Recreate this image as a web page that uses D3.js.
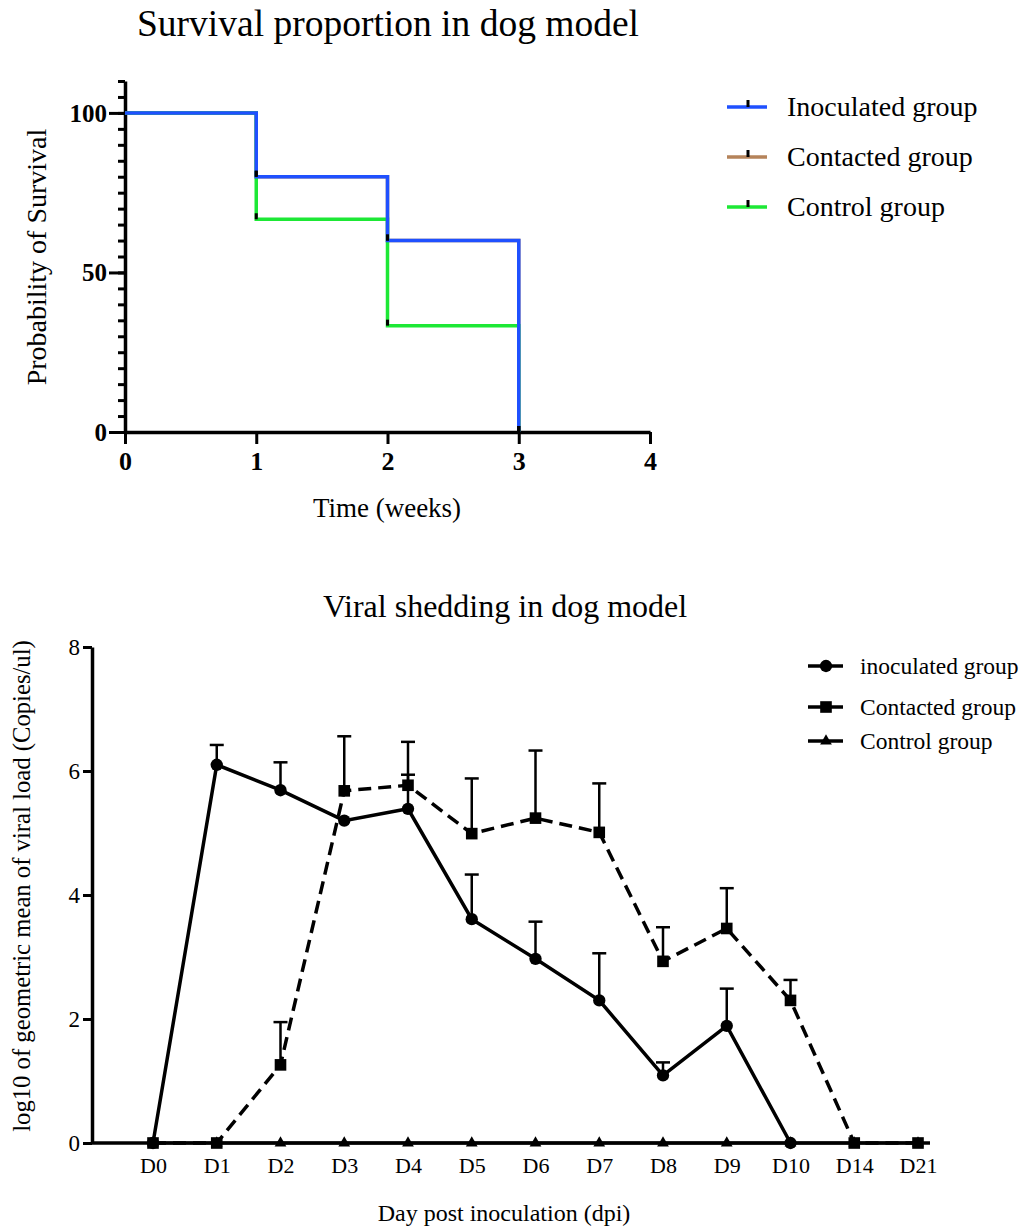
<!DOCTYPE html>
<html lang="en">

<head>
    <meta charset="UTF-8">
    <title>Survival and viral shedding in dog model</title>
    <script src="https://d3js.org/d3.v7.min.js"></script>
    <style>
        body { margin: 0; background: #fff; }
        text { font-family: "Liberation Serif", "Times New Roman", serif; fill: #000; }
    </style>
</head>

<body>
    <script>
        // ---- survival data (weeks, percent) ----
        var survWeeks = [0, 1, 2, 3];
        var survInoculated = [100, 80, 60, 0];
        var survContacted = [100, 80, 60, 0];
        var survControl = [100, 66.67, 33.33, 0];
        var survGroups = ["Inoculated group", "Contacted group", "Control group"];

        // ---- viral shedding data (log10 copies/ul) ----
        var days = ["D0", "D1", "D2", "D3", "D4", "D5", "D6", "D7", "D8", "D9", "D10", "D14", "D21"];
        var inoculatedMean = [0, 6.10, 5.69, 5.20, 5.39, 3.61, 2.97, 2.30, 1.09, 1.89, 0, null, null];
        var inoculatedErr = [0, 0.32, 0.45, 0, 0.55, 0.72, 0.60, 0.76, 0.21, 0.60, 0, null, null];
        var contactedMean = [0, 0, 1.26, 5.68, 5.77, 4.99, 5.24, 5.01, 2.93, 3.46, 2.30, 0, 0];
        var contactedErr = [0, 0, 0.69, 0.88, 0.70, 0.89, 1.09, 0.79, 0.55, 0.65, 0.33, 0, 0];
        var controlMean = [0, 0, 0, 0, 0, 0, 0, 0, 0, 0, 0, 0, 0];
        var shedGroups = ["inoculated group", "Contacted group", "Control group"];

        var width = 1025, height = 1229;
        var svg = d3.select("body").append("svg")
            .attr("width", width)
            .attr("height", height);
        svg.append("rect").attr("width", width).attr("height", height).attr("fill", "#fff");

        // =========== top chart: survival ===========
        var x1 = d3.scaleLinear().domain([0, 4]).range([125, 650]);
        var y1 = d3.scaleLinear().domain([0, 110]).range([432, 81]);

        svg.append("text")
            .attr("x", 388).attr("y", 36)
            .attr("text-anchor", "middle")
            .style("font-size", "37.5px")
            .text("Survival proportion in dog model");

        // minor ticks every 5
        svg.append("g")
            .attr("transform", "translate(" + x1(0) + ",0)")
            .call(d3.axisLeft(y1).tickValues(d3.range(0, 111, 5)).tickSize(7).tickSizeOuter(0).tickFormat(""))
            .call(g => g.selectAll("line").attr("stroke-width", 3))
            .call(g => g.select(".domain").attr("stroke-width", 3.5));

        var yAx1 = svg.append("g")
            .attr("transform", "translate(" + x1(0) + ",0)")
            .call(d3.axisLeft(y1).tickValues([0, 50, 100]).tickSize(16).tickPadding(2).tickSizeOuter(0));
        yAx1.select(".domain").remove();
        yAx1.selectAll("line").attr("stroke-width", 3);
        yAx1.selectAll("text").style("font-size", "25px").style("font-weight", "bold").attr("dy", "0.34em");

        var xAx1 = svg.append("g")
            .attr("transform", "translate(0," + y1(0) + ")")
            .call(d3.axisBottom(x1).tickValues([0, 1, 2, 3, 4]).tickFormat(d3.format("d"))
                .tickSize(12).tickPadding(8).tickSizeOuter(0));
        xAx1.select(".domain").attr("stroke-width", 3.5);
        xAx1.selectAll("line").attr("stroke-width", 3);
        xAx1.selectAll("text").style("font-size", "26px").style("font-weight", "bold");

        svg.append("text")
            .attr("transform", "translate(46," + 257 + ") rotate(-90)")
            .attr("text-anchor", "middle")
            .style("font-size", "28px")
            .text("Probability of Survival");

        svg.append("text")
            .attr("x", 387).attr("y", 517)
            .attr("text-anchor", "middle")
            .style("font-size", "27px")
            .text("Time (weeks)");

        var survColors = ["#1f50ff", "#b5835a", "#1de835"];
        var survSeries = [survInoculated, survContacted, survControl];
        var stepLine = d3.line()
            .x(d => x1(d[0]))
            .y(d => y1(d[1]))
            .curve(d3.curveStepAfter);

        // draw order: contacted, control, inoculated on top
        [1, 2, 0].forEach(function (k) {
            var pts = survWeeks.map((w, i) => [w, survSeries[k][i]]);
            svg.append("path")
                .datum(pts)
                .attr("fill", "none")
                .attr("stroke", survColors[k])
                .attr("stroke-width", 3.5)
                .attr("d", stepLine);
        });
        // censor marks
        [1, 2, 0].forEach(function (k) {
            survWeeks.slice(1).forEach(function (w, i) {
                svg.append("line")
                    .attr("x1", x1(w)).attr("x2", x1(w))
                    .attr("y1", y1(survSeries[k][i + 1]))
                    .attr("y2", y1(survSeries[k][i + 1]) - 6)
                    .attr("stroke", "#000")
                    .attr("stroke-width", 3);
            });
        });

        // legend top
        survGroups.forEach(function (name, i) {
            var ly = 107 + i * 50;
            svg.append("line")
                .attr("x1", 727).attr("x2", 767)
                .attr("y1", ly).attr("y2", ly)
                .attr("stroke", survColors[i]).attr("stroke-width", 3.5);
            svg.append("line")
                .attr("x1", 748).attr("x2", 748)
                .attr("y1", ly).attr("y2", ly - 7)
                .attr("stroke", "#000").attr("stroke-width", 3);
            svg.append("text")
                .attr("x", 787).attr("y", ly + 9)
                .style("font-size", "28px")
                .text(name);
        });

        // =========== bottom chart: viral shedding ===========
        var x2 = d3.scalePoint().domain(days).range([153, 918]);
        var y2 = d3.scaleLinear().domain([0, 8]).range([1143, 647]);

        svg.append("text")
            .attr("x", 505).attr("y", 617)
            .attr("text-anchor", "middle")
            .style("font-size", "32px")
            .text("Viral shedding in dog model");

        var yAx2 = svg.append("g")
            .attr("transform", "translate(92,0)")
            .call(d3.axisLeft(y2).tickValues([0, 2, 4, 6, 8]).tickSize(9).tickPadding(3).tickSizeOuter(0));
        yAx2.select(".domain").attr("stroke-width", 3.5);
        yAx2.selectAll("line").attr("stroke-width", 3);
        yAx2.selectAll("text").style("font-size", "23px").attr("dy", "0.34em");

        var xAx2 = svg.append("g")
            .attr("transform", "translate(0," + y2(0) + ")")
            .call(d3.axisBottom(x2).tickSize(0).tickPadding(14));
        xAx2.select(".domain").remove();
        xAx2.selectAll("text").style("font-size", "22px");
        svg.append("line")
            .attr("x1", 92).attr("x2", 930)
            .attr("y1", y2(0)).attr("y2", y2(0))
            .attr("stroke", "#000").attr("stroke-width", 3.5);

        svg.append("text")
            .attr("transform", "translate(30,886) rotate(-90)")
            .attr("text-anchor", "middle")
            .style("font-size", "24.7px")
            .text("log10 of geometric mean of viral load (Copies/ul)");

        svg.append("text")
            .attr("x", 504).attr("y", 1221)
            .attr("text-anchor", "middle")
            .style("font-size", "24px")
            .text("Day post inoculation (dpi)");

        function seriesPoints(mean, err) {
            return days.map((d, i) => ({ day: d, v: mean[i], e: err ? err[i] : 0 }))
                .filter(p => p.v !== null);
        }
        var inocPts = seriesPoints(inoculatedMean, inoculatedErr);
        var contPts = seriesPoints(contactedMean, contactedErr);
        var ctrlPts = seriesPoints(controlMean, null);

        var line2 = d3.line().x(p => x2(p.day)).y(p => y2(p.v));

        // error bars (upper only)
        [inocPts, contPts].forEach(function (pts) {
            var eb = svg.append("g").attr("stroke", "#000").attr("stroke-width", 2.5);
            pts.filter(p => p.e > 0).forEach(function (p) {
                var cx = x2(p.day);
                eb.append("line").attr("x1", cx).attr("x2", cx)
                    .attr("y1", y2(p.v)).attr("y2", y2(p.v + p.e));
                eb.append("line").attr("x1", cx - 7).attr("x2", cx + 7)
                    .attr("y1", y2(p.v + p.e)).attr("y2", y2(p.v + p.e));
            });
        });

        svg.append("path").datum(ctrlPts)
            .attr("fill", "none").attr("stroke", "#000").attr("stroke-width", 3)
            .attr("d", line2);
        svg.append("path").datum(contPts)
            .attr("fill", "none").attr("stroke", "#000").attr("stroke-width", 3.5)
            .attr("stroke-dasharray", "13,7")
            .attr("d", line2);
        svg.append("path").datum(inocPts)
            .attr("fill", "none").attr("stroke", "#000").attr("stroke-width", 3.5)
            .attr("d", line2);

        var triSym = d3.symbol().type(d3.symbolTriangle).size(60);
        var sqSym = d3.symbol().type(d3.symbolSquare).size(135);
        var cirSym = d3.symbol().type(d3.symbolCircle).size(120);

        svg.selectAll(".tri").data(ctrlPts).enter().append("path")
            .attr("transform", p => "translate(" + x2(p.day) + "," + y2(p.v) + ")")
            .attr("d", triSym);
        svg.selectAll(".sq").data(contPts).enter().append("path")
            .attr("transform", p => "translate(" + x2(p.day) + "," + y2(p.v) + ")")
            .attr("d", sqSym);
        svg.selectAll(".cir").data(inocPts).enter().append("path")
            .attr("transform", p => "translate(" + x2(p.day) + "," + y2(p.v) + ")")
            .attr("d", cirSym);

        // legend bottom
        var legSyms = [cirSym, sqSym, triSym];
        var legY = [666, 707, 741];
        shedGroups.forEach(function (name, i) {
            svg.append("line")
                .attr("x1", 808).attr("x2", 843)
                .attr("y1", legY[i]).attr("y2", legY[i])
                .attr("stroke", "#000").attr("stroke-width", 3.5);
            svg.append("path")
                .attr("transform", "translate(826," + legY[i] + ")")
                .attr("d", legSyms[i]);
            svg.append("text")
                .attr("x", 860).attr("y", legY[i] + 8)
                .style("font-size", "23.5px")
                .text(name);
        });
    </script>
</body>

</html>
